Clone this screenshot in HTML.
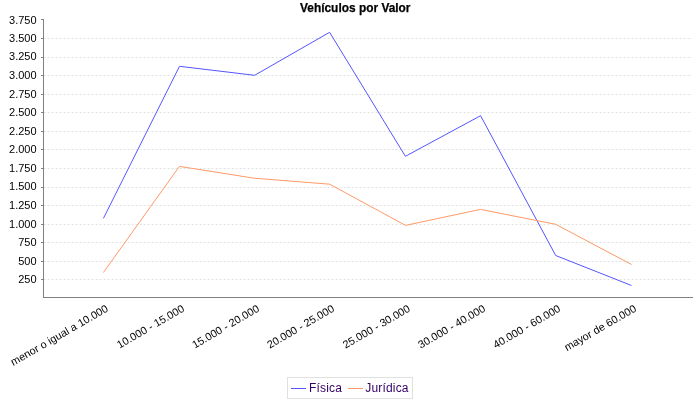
<!DOCTYPE html>
<html><head><meta charset="utf-8"><style>
html,body{margin:0;padding:0;background:#fff;width:700px;height:400px;overflow:hidden}
svg{position:absolute;left:0;top:0;will-change:transform}
text{font-family:"Liberation Sans",sans-serif}
.g{stroke:#c0c0c0;stroke-width:0.5;stroke-dasharray:2 2}
.ax{stroke:#808080;stroke-width:1}
.yl{font-size:11px;text-anchor:end;fill:#000}
.cl{font-size:10.8px;text-anchor:end;fill:#000}
.t{font-size:12.5px;font-weight:bold;fill:#000;stroke:#000;stroke-width:0.25px}
.lg{font-size:12px;fill:#330066;letter-spacing:0.17px}
</style></head><body>
<svg width="700" height="400" viewBox="0 0 700 400">
<text x="300" y="12" class="t" textLength="110.5" lengthAdjust="spacingAndGlyphs">Vehículos por Valor</text>
<line x1="43.6" y1="279.50" x2="692" y2="279.50" class="g"/>
<line x1="43.6" y1="261.50" x2="692" y2="261.50" class="g"/>
<line x1="43.6" y1="242.50" x2="692" y2="242.50" class="g"/>
<line x1="43.6" y1="224.50" x2="692" y2="224.50" class="g"/>
<line x1="43.6" y1="205.50" x2="692" y2="205.50" class="g"/>
<line x1="43.6" y1="187.50" x2="692" y2="187.50" class="g"/>
<line x1="43.6" y1="168.50" x2="692" y2="168.50" class="g"/>
<line x1="43.6" y1="149.50" x2="692" y2="149.50" class="g"/>
<line x1="43.6" y1="131.50" x2="692" y2="131.50" class="g"/>
<line x1="43.6" y1="112.50" x2="692" y2="112.50" class="g"/>
<line x1="43.6" y1="94.50" x2="692" y2="94.50" class="g"/>
<line x1="43.6" y1="75.50" x2="692" y2="75.50" class="g"/>
<line x1="43.6" y1="57.50" x2="692" y2="57.50" class="g"/>
<line x1="43.6" y1="38.50" x2="692" y2="38.50" class="g"/>
<line x1="43.5" y1="19" x2="43.5" y2="298" class="ax"/>
<line x1="43" y1="297.5" x2="693" y2="297.5" class="ax"/>
<line x1="41" y1="279.50" x2="43" y2="279.50" class="ax"/>
<text x="36.6" y="283.32" class="yl">250</text>
<line x1="41" y1="261.50" x2="43" y2="261.50" class="ax"/>
<text x="36.6" y="264.75" class="yl">500</text>
<line x1="41" y1="242.50" x2="43" y2="242.50" class="ax"/>
<text x="36.6" y="246.18" class="yl">750</text>
<line x1="41" y1="224.50" x2="43" y2="224.50" class="ax"/>
<text x="36.6" y="227.60" class="yl">1.000</text>
<line x1="41" y1="205.50" x2="43" y2="205.50" class="ax"/>
<text x="36.6" y="209.03" class="yl">1.250</text>
<line x1="41" y1="187.50" x2="43" y2="187.50" class="ax"/>
<text x="36.6" y="190.46" class="yl">1.500</text>
<line x1="41" y1="168.50" x2="43" y2="168.50" class="ax"/>
<text x="36.6" y="171.88" class="yl">1.750</text>
<line x1="41" y1="149.50" x2="43" y2="149.50" class="ax"/>
<text x="36.6" y="153.31" class="yl">2.000</text>
<line x1="41" y1="131.50" x2="43" y2="131.50" class="ax"/>
<text x="36.6" y="134.74" class="yl">2.250</text>
<line x1="41" y1="112.50" x2="43" y2="112.50" class="ax"/>
<text x="36.6" y="116.17" class="yl">2.500</text>
<line x1="41" y1="94.50" x2="43" y2="94.50" class="ax"/>
<text x="36.6" y="97.59" class="yl">2.750</text>
<line x1="41" y1="75.50" x2="43" y2="75.50" class="ax"/>
<text x="36.6" y="79.02" class="yl">3.000</text>
<line x1="41" y1="57.50" x2="43" y2="57.50" class="ax"/>
<text x="36.6" y="60.45" class="yl">3.250</text>
<line x1="41" y1="38.50" x2="43" y2="38.50" class="ax"/>
<text x="36.6" y="41.87" class="yl">3.500</text>
<line x1="41" y1="19.50" x2="43" y2="19.50" class="ax"/>
<text x="36.6" y="24.10" class="yl">3.750</text>
<polyline points="103.4,218.4 179.5,66.3 254.6,75.3 329.6,32.3 405.4,156.3 480.6,115.7 555.7,255.5 631.5,285.5" fill="none" stroke="#5555ff" stroke-width="1"/>
<polyline points="103.4,272.5 179.4,166.4 254.2,178.2 329.7,184.2 405.5,225.4 480.5,209.4 555.7,224.3 631.5,264.5" fill="none" stroke="#ff9966" stroke-width="1"/>
<text transform="translate(105.00,303.9) rotate(-30)" x="0" y="8" class="cl">menor o igual a 10.000</text>
<text transform="translate(181.10,303.9) rotate(-30)" x="0" y="8" class="cl">10.000 - 15.000</text>
<text transform="translate(256.20,303.9) rotate(-30)" x="0" y="8" class="cl">15.000 - 20.000</text>
<text transform="translate(331.20,303.9) rotate(-30)" x="0" y="8" class="cl">20.000 - 25.000</text>
<text transform="translate(407.00,303.9) rotate(-30)" x="0" y="8" class="cl">25.000 - 30.000</text>
<text transform="translate(482.20,303.9) rotate(-30)" x="0" y="8" class="cl">30.000 - 40.000</text>
<text transform="translate(557.30,303.9) rotate(-30)" x="0" y="8" class="cl">40.000 - 60.000</text>
<text transform="translate(633.10,303.9) rotate(-30)" x="0" y="8" class="cl">mayor de 60.000</text>
<rect x="287.5" y="377.5" width="125" height="21" fill="none" stroke="#e0e0e0" stroke-width="1"/>
<line x1="291" y1="388.5" x2="306" y2="388.5" stroke="#5555ff" stroke-width="1"/>
<text x="309" y="392" class="lg">Física</text>
<line x1="348" y1="388.5" x2="363" y2="388.5" stroke="#ff9966" stroke-width="1"/>
<text x="365.3" y="392" class="lg">Jurídica</text>
</svg>
</body></html>
